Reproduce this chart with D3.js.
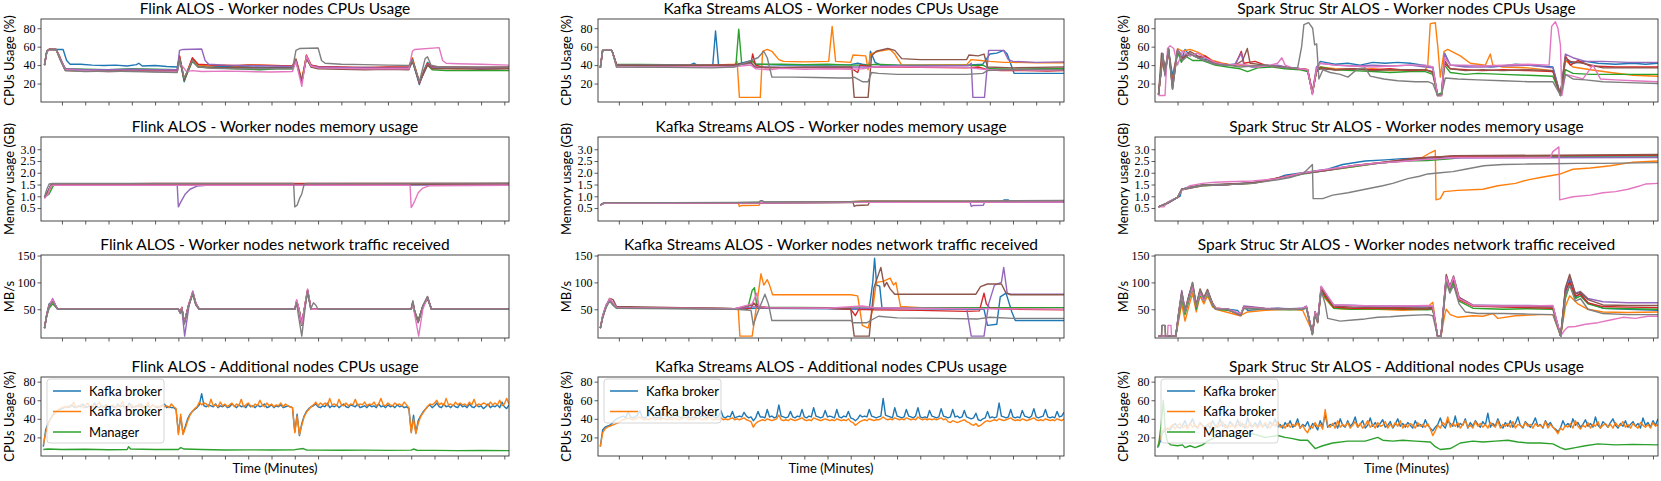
<!DOCTYPE html>
<html><head><meta charset="utf-8">
<script src="https://cdn.jsdelivr.net/npm/d3@7"></script>
<style>body{margin:0;background:#fff}</style>
</head><body>
<svg id="c" width="1661" height="481"></svg>
<script>
// ---------------- DATA ----------------
const frameworks = ["Flink ALOS", "Kafka Streams ALOS", "Spark Struc Str ALOS"];
const rowTitles = ["Worker nodes CPUs Usage", "Worker nodes memory usage", "Worker nodes network traffic received", "Additional nodes CPUs usage"];
const rowYLabels = ["CPUs Usage (%)", "Memory usage (GB)", "MB/s", "CPUs Usage (%)"];
const xLabel = "Time (Minutes)";
const xTicks = [1,2,3,4,5,6,7,8,9,10,11,12,13,14,15,16,17,18,19,20];
const cpuTicks = [20,40,60,80];
const memTicks = [0.5,1.0,1.5,2.0,2.5,3.0];
const netTicks = [50,100,150];
const memTickLabels = ["0.5","1.0","1.5","2.0","2.5","3.0"];
const legendFlink = ["Kafka broker","Kafka broker","Manager"];
const legendKafka = ["Kafka broker","Kafka broker"];
const legendSpark = ["Kafka broker","Kafka broker","Manager"];

// worker series order: blue, orange, green, red, purple, brown, pink, gray  (time,value pairs)
const flinkCpu = [
"0.25,41 0.35,55 0.45,57 0.9,57 1.05,57 1.2,45 1.35,41 1.8,41 2.3,40 2.8,39.5 3.3,40 3.8,39 4.2,40.5 4.3,42 4.45,39 5.0,39.5 5.5,38.5 5.95,38 6.05,48 6.25,22 6.35,30 6.6,46 6.8,40 7.2,38 8,38.5 9,38 10,37.5 10.9,37 11.05,45 11.3,22 11.5,48 11.7,40 12,38 13,37 14,37.5 15,37 15.9,37 16.05,45 16.35,19 16.55,35 16.7,43 16.9,38 17.5,37.5 18.5,37 19.5,37 20.2,37",
"0.25,40 0.35,54 0.45,57 0.75,57 0.9,50 1.1,36 1.5,35 2,34 3,35 4,35 5,34.5 5.95,34 6.05,50 6.25,25 6.6,47 6.85,40 7.2,39 8,40 8.5,39 9,40.5 10,39.5 10.9,39 11.05,47 11.3,25 11.5,50 11.7,40 12,38 13,37.5 14,37 15,37.5 15.9,37 16.05,48 16.35,22 16.7,42 16.9,37 18,36 19,37 20.2,37",
"0.25,40 0.35,55 0.45,57 0.75,57 0.95,45 1.15,36 2,35.5 3,35 4,36 5,35.5 5.95,35 6.05,48 6.25,23 6.6,44 6.85,38 7.5,37 8.5,36 9.5,35 10.2,36 10.9,36 11.05,44 11.3,22 11.5,48 11.7,38 12,37 13,36.5 14,36 15,36 15.9,36 16.05,46 16.35,21 16.7,40 16.9,35 17.5,34 18.5,34 19.5,34.5 20.2,34",
"0.25,40 0.35,55 0.45,57.5 0.75,57 0.95,46 1.15,35 2,34 3,34.5 4,34 5,35 5.95,34.5 6.05,50 6.25,24 6.6,48 6.85,41 7.5,40 8.5,39.5 9.5,40 10.9,39 11.05,46 11.3,21 11.5,51 11.7,40 12,38.5 13,38 14,37.5 15,38 15.9,38 16.05,47 16.35,20 16.7,42 16.9,38 18,38 19,37.5 20.2,38",
"0.25,40 0.35,55 0.45,57 0.75,57 0.95,46 1.15,36 2,35 3,35 4,35.5 5,35 5.95,35 6.05,56 6.2,57 7.0,57.5 7.15,45 7.3,41 8,40 9,39.5 10,39 10.9,38.5 11.05,46 11.3,22 11.5,49 11.7,39 12,38 13,37.5 14,37 15,37 15.9,37 16.05,45 16.35,21 16.7,41 16.9,37 18,37 19,36.5 20.2,36.5",
"0.25,40 0.35,55 0.45,57 0.75,57 0.95,45 1.15,34 2,33.5 3,33 4,33.5 5,33 5.95,33 6.05,47 6.25,24 6.6,45 6.85,38 7.5,37 8.5,37.5 9.5,37 10.9,37 11.05,45 11.3,23 11.5,47 11.7,38 12,36 13,35.5 14,35 15,35.5 15.9,35 16.05,44 16.35,22 16.7,40 16.9,36 18,36 19,35.5 20.2,36",
"0.25,40 0.35,54 0.45,57 0.75,57 0.95,45 1.15,35 2,34 3,33 4,33.5 5,33 5.95,33 6.05,42 6.2,38 6.35,33 6.6,34 7,33 8,33.5 9,33 10,32.5 10.9,33 11.05,44 11.3,17 11.5,50 11.7,39 12,37 13,36.5 14,36 15,36 15.9,36 16.05,55 16.15,57 17.2,59 17.35,45 17.5,42 18,41.5 19,41 20.2,40",
"0.25,40 0.35,55 0.45,57 0.75,57 0.95,44 1.15,34 2,33 3,33.5 4,33 5,32.5 5.95,32 6.05,47 6.25,26 6.6,45 6.85,38 7.5,36.5 8.5,36 9.5,36 10.9,36 11.05,56 11.2,58 12.0,58.5 12.15,45 12.3,42 13,41 14,40.5 15,40 15.9,39.5 16.05,46 16.35,22 16.6,47 16.7,49 16.85,40 17.2,38 18,38 19,38 20.2,38"
];
const flinkMem = [
"0.25,0.95 0.35,1.1 0.5,1.45 0.6,1.52 5,1.53 10,1.54 15,1.54 20.2,1.54",
"0.25,0.95 0.4,1.15 0.55,1.45 0.65,1.5 10,1.52 20.2,1.52",
"0.25,0.95 0.45,1.1 0.6,1.4 0.7,1.5 11,1.5 16,1.51 20.2,1.55",
"0.25,0.95 0.4,1.2 0.55,1.5 5,1.55 10,1.55 20.2,1.55",
"0.25,0.95 0.4,1.2 0.55,1.48 5.95,1.48 6.0,0.55 6.1,0.75 6.3,1.1 6.5,1.3 6.8,1.43 7.2,1.47 20.2,1.48",
"0.25,0.95 0.4,1.2 0.55,1.5 20.2,1.52",
"0.25,0.9 0.4,1.1 0.5,1.4 0.6,1.47 15.95,1.47 16.0,0.52 16.05,0.6 16.15,0.8 16.3,1.15 16.5,1.35 16.8,1.45 20.2,1.47",
"0.25,0.97 0.35,1.3 0.45,1.52 0.6,1.55 10.95,1.55 11.0,0.55 11.1,0.62 11.2,0.9 11.3,1.1 11.4,1.5 11.5,1.55 20.2,1.56"
];
const flinkNet = [
"0.25,15 0.35,42 0.45,60 0.6,65 0.72,57 0.82,50 3,50 6.0,50 6.08,45 6.15,52 6.25,25 6.45,60 6.62,80 6.75,60 6.9,50 11.0,50 11.08,63 11.18,50 11.3,20 11.45,60 11.55,82 11.7,50 16.0,50 16.07,60 16.15,45 16.3,28 16.5,55 16.7,70 16.87,50 20.2,50",
"0.25,15 0.35,40 0.45,55 0.6,63 0.72,55 0.82,50 6.0,50 6.08,44 6.15,53 6.25,24 6.45,58 6.62,82 6.75,60 6.9,50 11.0,50 11.08,65 11.18,50 11.3,22 11.45,60 11.55,85 11.7,50 16.0,50 16.07,63 16.15,45 16.3,27 16.5,55 16.7,72 16.87,50 20.2,50",
"0.25,15 0.35,38 0.45,52 0.6,60 0.72,55 0.82,50 6.0,50 6.08,46 6.15,52 6.25,26 6.45,58 6.62,78 6.75,58 6.9,50 11.0,50 11.08,60 11.18,50 11.3,25 11.45,58 11.55,83 11.7,50 16.0,50 16.07,60 16.15,46 16.3,30 16.5,55 16.7,70 16.87,50 20.2,50",
"0.25,15 0.35,40 0.45,57 0.6,68 0.72,58 0.82,50 6.0,50 6.08,45 6.15,54 6.25,24 6.45,60 6.62,82 6.75,60 6.9,50 11.0,50 11.08,66 11.18,50 11.3,21 11.45,62 11.55,86 11.7,50 16.0,50 16.07,62 16.15,44 16.3,27 16.5,56 16.7,73 16.87,50 20.2,50",
"0.25,15 0.35,40 0.45,55 0.6,70 0.72,58 0.82,50 6.0,50 6.08,42 6.15,50 6.27,0 6.45,55 6.62,84 6.75,62 6.9,50 11.0,50 11.08,64 11.18,50 11.3,22 11.45,60 11.55,85 11.7,50 16.0,50 16.07,62 16.15,45 16.3,26 16.5,55 16.7,72 16.87,50 20.2,50",
"0.25,15 0.35,41 0.45,58 0.6,66 0.72,57 0.82,50 6.0,50 6.08,44 6.15,52 6.25,23 6.45,59 6.62,81 6.75,60 6.9,50 11.0,50 11.08,62 11.18,50 11.3,20 11.45,60 11.55,84 11.7,50 16.0,50 16.07,64 16.15,45 16.3,25 16.5,55 16.7,72 16.87,50 20.2,50",
"0.25,15 0.35,40 0.45,56 0.6,69 0.72,58 0.82,50 6.0,50 6.08,44 6.15,53 6.25,24 6.45,60 6.62,82 6.75,61 6.9,50 11.0,50 11.08,68 11.18,50 11.3,22 11.45,62 11.55,88 11.7,50 16.0,50 16.07,58 16.15,40 16.32,0 16.5,50 16.7,73 16.87,50 20.2,50",
"0.25,15 0.35,39 0.45,55 0.6,64 0.72,56 0.82,50 6.0,50 6.08,43 6.15,50 6.25,22 6.45,57 6.62,80 6.75,58 6.9,50 11.0,50 11.08,62 11.15,40 11.3,0 11.45,55 11.55,84 11.68,50 11.8,62 11.9,58 12.0,50 16.0,50 16.07,66 16.15,47 16.3,26 16.5,57 16.7,74 16.87,50 20.2,50"
];
// additional nodes: regularly sampled every 0.1 min from t=0.2
const flinkBroker1 = "10 28 35 40 44 47 49 50 51 52 53 52 55 53 52 54 53 56 52 53 54 52 57 53 52 54 53 55 52 54 53 52 56 53 54 52 53 57 52 53 54 53 56 52 53 54 52 55 53 52 53 54 56 52 53 52 52 50 25 42 24 32 40 45 48 50 52 55 67 54 53 55 54 53 56 52 54 53 55 52 53 56 54 52 55 53 54 52 56 53 54 52 55 53 54 56 52 53 55 52 54 53 55 52 53 54 53 52 26 45 22 35 43 48 51 53 54 56 53 52 54 53 57 52 54 53 55 52 54 56 53 52 55 54 53 56 52 53 54 52 55 53 54 52 56 53 54 52 55 53 54 52 55 53 54 52 53 51 26 44 25 38 43 47 50 53 55 52 54 57 53 52 56 53 54 52 55 53 52 56 53 54 52 56 53 52 55 53 54 51 53 56 52 54 53 55 52 58 53 51 55";
const flinkBroker2 = "12 25 33 39 43 46 49 51 52 53 52 54 53 58 52 53 55 52 54 57 53 55 52 54 58 53 52 55 53 54 55 52 54 53 59 52 54 53 55 52 53 56 52 54 53 58 52 55 53 54 52 55 53 54 52 56 53 51 23 45 23 30 38 44 48 51 53 58 55 57 56 53 61 54 55 53 58 54 56 53 55 57 53 56 54 61 53 55 57 54 53 56 54 60 55 53 57 54 56 53 55 54 57 53 56 54 53 52 25 43 23 33 42 47 50 53 55 58 54 57 55 57 54 62 55 56 54 61 55 54 57 54 56 55 61 54 56 55 58 54 56 55 58 54 56 62 55 54 57 55 54 57 55 56 54 58 55 52 25 40 24 35 42 46 50 53 56 55 57 60 55 57 54 62 55 56 54 58 55 57 55 56 54 58 55 61 54 56 55 57 56 54 58 55 57 55 60 54 56 62 56";
const flinkManager = "0.2,7 0.4,7.5 1,7 2,7.2 3,6.8 3.8,7 3.86,10 3.95,7.5 5,7 6,7 6.1,9 6.25,7.5 7,7 8,6.5 9,6.6 10,6.5 11,6.8 11.36,8 11.5,6.5 12,6.3 13,6.2 14,6.3 15,6 16,6.3 16.1,7.5 16.25,6.2 17,6 18,5.8 19,5.9 20.2,5.8";

const kafkaCpu = [
"0.2,37 0.3,56 0.7,56 0.9,40 2,39.5 3,40 4,39.5 4.25,42 4.4,39.5 5.05,40 5.17,77 5.3,40 6,40 6.1,41 6.75,45 6.9,41 8,40 9,40 10,40 11,40.5 11.3,42 11.5,41 11.8,40 11.85,55 12.05,43 12.3,40 14,40 16,40 16.7,41 17.0,52 17.3,53 17.6,56 17.75,52 18.05,31 19,31 20.2,31",
"0.2,37 0.3,56 0.7,56 0.9,40 3,39.5 5,40 6.0,41 6.1,44 6.2,5 7.1,5 7.2,55 7.4,57 7.6,55 7.9,46 8.1,44 9,43.5 10.05,44 10.2,82 10.35,44 11.0,43 11.1,51 11.65,50 11.75,35 11.85,52 12.2,55 12.7,57 12.9,52 13.2,40 14,40 16,40.5 16.2,46 16.6,45 17.0,44 17.6,43 18,43 19,42.5 20.2,42.5",
"0.2,37 0.3,56 0.7,56 0.9,41 3,40.5 5,40 6.05,40 6.17,79 6.3,41 6.75,44 6.9,41 8,41 9,40.5 10,41 11,40 11.4,40 11.8,40 12.1,41 13,40 14,39.5 16,39.5 16.7,40 17,36 18,35.5 19,36 20.2,36",
"0.2,37 0.3,56 0.7,56 0.9,40 3,39.5 5,40 6,40.5 6.7,42 6.77,52 6.9,40 7.3,37 8,37 9,37.5 10,37 11,37 11.3,32 11.4,40 12,38 13,38 14,37.5 16,37 16.5,38 16.9,35 17.5,34 18.5,34 19.5,33.5 20.2,34",
"0.2,37 0.3,56 0.7,56 0.9,40 3,40 5,39.5 6,40 6.7,42 6.9,38 8,37.5 10,38 11,38 11.8,38 12.5,39 14,39 16.1,39.5 16.2,42 16.27,5 16.77,5 16.95,56 17.6,56 17.8,46 18,44 19,43 20.2,43.5",
"0.2,37 0.3,56 0.7,56 0.9,40 3,39 5,39.5 6,40 6.7,43 6.85,38 8,37.5 10,38 11.05,38 11.15,5 11.75,5 11.9,50 12.1,55 12.6,58 12.9,56 13.2,47 14,46 15,46 16.0,46 16.1,51 16.5,50 16.75,52 16.9,38 18,37 19,37.5 20.2,38",
"0.2,37 0.3,56 0.7,56 0.9,38 3,38 5,38 6,38.5 6.7,40 6.9,36 7.5,35 8,36.5 9,35.5 10,36 11,35.5 11.5,36 12,38 13,38.5 14,38 16,37.5 16.9,35 18,35 19,34.5 20.2,35",
"0.2,37 0.3,56 0.7,56 0.9,38 3,37.5 5,37 6,38 7.0,48 7.25,55 7.4,48 7.6,27 8.5,27 9.5,26.5 10.5,26 11.0,26 11.15,27 11.5,22 11.75,22 11.9,32 12.2,31 13,30 14,30 16,30 16.7,31 16.9,34 17.5,35 19,35.5 20.2,35"
];
const kafkaMem = [
"0.2,0.63 0.35,0.71 6,0.73 11,0.75 16,0.77 17.55,0.77 17.6,0.84 17.8,0.84 17.85,0.78 20.2,0.79",
"0.2,0.63 0.35,0.71 6.15,0.72 6.2,0.57 6.3,0.61 7.05,0.62 7.1,0.73 11,0.77 11.5,0.8 16,0.79 20.2,0.8",
"0.2,0.63 0.35,0.71 6,0.73 11,0.75 16,0.76 20.2,0.77",
"0.2,0.63 0.35,0.7 6,0.72 11,0.74 16,0.75 20.2,0.76",
"0.2,0.63 0.35,0.7 6,0.72 11,0.74 16.15,0.75 16.2,0.57 16.3,0.61 16.72,0.62 16.77,0.74 20.2,0.74",
"0.2,0.63 0.35,0.71 6,0.73 11.1,0.75 11.15,0.57 11.25,0.61 11.75,0.63 11.8,0.74 16,0.77 20.2,0.78",
"0.2,0.62 0.35,0.7 6,0.72 11,0.74 16,0.75 20.2,0.76",
"0.2,0.64 0.35,0.72 6,0.74 7.05,0.75 7.1,0.81 7.2,0.81 7.25,0.76 11,0.77 11.8,0.8 16,0.8 20.2,0.82"
];
const kafkaNet = [
"0.2,15 0.3,38 0.45,58 0.6,68 0.75,58 0.9,53 3,53 6,51 7,52 10,51 11.8,50 11.95,100 12.03,145 12.12,95 12.25,93 12.35,52 13,52 16,50 16.75,50 16.9,20 17.3,22 17.45,73 17.7,80 17.95,45 18.1,29 19,29 20.2,29",
"0.2,15 0.3,35 0.45,55 0.6,70 0.75,60 0.9,53 3,53 6.0,51 6.15,50 6.22,0 6.75,0 6.95,60 7.13,116 7.25,95 7.4,105 7.5,95 7.63,77 9,77 11,77 11.3,75 11.5,20 11.75,15 11.95,50 12.1,100 12.4,102 12.7,108 12.85,95 12.95,100 13.15,55 14,53 16,52 17,53 18,53 20.2,53",
"0.2,15 0.3,36 0.45,56 0.6,66 0.75,58 0.9,52 3,52 6,51 6.55,50 6.75,85 6.85,90 6.95,55 7.3,54 10,53 12,52 14,53 17,53 20.2,53",
"0.2,15 0.3,36 0.45,56 0.6,68 0.75,60 0.9,53 6,51 6.7,52 6.8,62 6.95,55 7.5,53 10,52 11,50 11.2,38 11.35,50 12,49 14,48 16,46 16.55,47 16.75,80 16.85,60 17,52 18,50 20.2,49",
"0.2,15 0.3,35 0.45,55 0.6,67 0.75,60 0.9,53 6,51 6.9,55 7.1,52 10,52 16.0,51 16.2,0 16.75,0 16.95,60 17.2,95 17.5,100 17.6,128 17.75,80 17.9,78 20.2,78",
"0.2,15 0.3,35 0.45,55 0.6,70 0.75,68 0.9,55 6,51 6.95,60 7.1,53 10,52 11.0,51 11.15,0 11.8,0 12.0,90 12.3,128 12.45,92 12.55,100 12.7,88 12.9,78 16.4,78 16.6,92 16.9,97 17.5,97 17.7,80 17.9,77 20.2,77",
"0.2,15 0.3,37 0.45,57 0.6,70 0.75,62 0.9,53 6,51 6.75,60 6.95,80 7.05,55 7.5,53 10,52 11.5,56 12,53 14,52 17,51 20.2,50",
"0.2,15 0.3,34 0.45,53 0.6,65 0.75,58 0.9,52 6,50 6.7,48 6.8,20 6.95,40 7.3,78 7.45,60 7.6,29 11,29 11.1,25 11.7,25 11.9,30 12.2,37 13,34 15,33 16.5,32 17,35 18,33 20.2,33"
];
const kafkaBroker1 = "10 28 31 32 33 35 38 40 41 42 43 41 48 42 41 42 44 49 42 41 42 43 50 42 41 42 41 48 43 42 41 42 49 43 42 41 43 50 42 41 42 41 48 42 43 42 41 50 43 42 41 42 49 42 41 43 42 48 41 42 43 42 47 43 41 42 38 41 48 42 42 41 50 42 43 41 42 55 43 42 41 42 48 42 41 43 42 50 42 41 43 42 52 43 42 41 42 49 42 43 42 41 50 42 41 43 42 48 41 40 38 40 44 42 43 42 50 43 42 41 42 43 62 44 43 42 41 52 43 42 41 42 50 43 42 41 43 52 42 41 42 41 49 43 42 41 42 51 43 42 41 42 50 42 43 41 42 49 42 41 40 41 46 39 38 40 41 48 41 42 41 42 57 43 42 41 42 50 42 41 42 41 49 43 42 41 43 51 42 41 42 43 50 42 41 42 41 48 42 43 47";
const kafkaBroker2 = "10 25 29 31 32 33 34 35 36 38 39 40 41 40 39 40 41 42 40 39 40 39 41 40 39 40 39 41 40 39 40 39 41 40 39 40 41 42 39 40 39 40 41 40 39 40 39 43 40 39 40 39 41 39 40 39 40 41 39 40 39 40 41 39 38 37 31 35 37 38 39 38 40 39 38 39 40 44 39 38 39 38 40 39 38 39 40 41 39 38 39 38 41 40 39 38 39 40 39 38 39 38 40 39 38 39 38 40 37 36 33 35 37 38 39 38 40 39 38 39 39 40 42 40 39 40 39 41 40 39 40 39 41 40 39 40 39 42 40 39 40 39 40 39 40 39 40 41 39 40 37 36 38 37 36 37 38 39 37 36 34 33 35 32 33 35 37 38 37 38 39 38 40 39 38 39 40 41 39 38 39 38 40 39 38 39 40 41 39 38 39 38 40 39 38 39 38 40 39 38 40";

const sparkCpu = [
"0.24,8 0.41,50 0.5,32 0.64,57 0.8,28 1.0,55 1.15,45 1.3,57 1.5,50 1.7,52 1.9,47 2.2,46 2.5,42 2.9,40 3.3,41 3.7,39 4.2,38 4.6,40 5.0,38 5.5,37 5.9,36 6.2,34 6.39,10 6.55,35 6.7,44 6.9,43 7.3,41 7.8,42 8.3,40 8.8,43 9.3,42 9.8,43 10.3,42 10.8,40 11.2,38 11.39,8 11.55,8 11.67,53 11.9,40 12.5,39 13,40 13.5,38 14,39 14.5,41 15,40 15.5,39 16.0,38 16.3,8 16.5,45 16.8,42 17.3,44 17.8,42 18.5,41 19.2,42 19.7,41 20.2,42",
"0.24,8 0.41,48 0.5,30 0.64,55 0.8,22 1.0,58 1.2,55 1.5,57 1.8,54 2.1,50 2.4,45 2.8,42 3.2,40 3.7,40 4.2,39 4.6,39 5.0,39 5.5,37 5.9,36 6.2,35 6.39,12 6.55,32 6.7,38 7.3,36 8,35 8.8,36 9.5,34 10.3,35 10.9,35 11.0,40 11.1,85 11.3,86 11.4,60 11.5,27 11.65,55 11.8,57 12.3,50 12.7,42 13.3,40 13.5,52 13.6,40 14,38 15,37 16.0,34 16.3,8 16.5,45 16.8,38 17.5,35 18.3,32 19.2,29 20.2,28",
"0.24,8 0.41,52 0.5,30 0.64,58 0.8,15 1.0,55 1.15,43 1.3,50 1.6,45 2.0,45 2.5,40 3.0,38 3.5,36 3.8,33 4.2,37 4.8,38 5.3,36 5.9,35 6.2,33 6.39,10 6.55,33 6.7,38 7.3,35 8,34 8.8,33 9.5,32 10.3,33 10.9,33 11.2,30 11.39,8 11.55,10 11.67,40 11.9,32 12.5,30 13,31 14,30 15,29 16.0,28 16.3,8 16.5,35 16.8,31 17.5,30 18.5,30 19.2,30 20.2,30",
"0.24,8 0.41,50 0.5,35 0.64,56 0.8,20 1.0,56 1.2,48 1.5,52 1.8,48 2.1,50 2.4,44 2.8,41 3.3,40 3.55,55 3.65,42 4.1,44 4.5,40 5.0,39 5.5,37 5.9,36 6.2,35 6.39,9 6.55,33 6.7,37 7.3,35 8,36 8.8,35 9.5,36 10.3,34 10.9,35 11.2,33 11.39,8 11.55,8 11.67,42 11.9,36 12.5,35 13.2,34 14,35 15,34 16.0,33 16.3,8 16.5,50 16.7,40 17.0,45 17.5,39 18.5,38 19.2,38 20.2,38",
"0.24,8 0.41,53 0.5,28 0.64,58 0.8,18 1.0,57 1.2,50 1.5,53 1.8,48 2.1,45 2.4,42 2.8,40 3.3,41 3.55,53 3.65,40 4.0,38 4.5,39 5.0,40 5.5,37 5.9,36 6.2,35 6.39,10 6.55,38 6.7,42 7.3,40 8,39 8.8,40 9.5,39 10.3,40 10.9,38 11.2,37 11.39,7 11.55,7 11.67,52 11.9,40 12.5,38 13.2,38 14,39 15,40 16.0,37 16.3,7 16.5,52 16.8,48 17.3,44 18,44 19,43 20.2,43",
"0.24,8 0.36,53 0.5,30 0.64,57 0.8,14 1.0,55 1.2,47 1.5,55 1.8,50 2.1,48 2.4,43 2.8,41 3.3,40 3.6,45 3.79,58 3.9,42 4.5,40 5.0,38 5.5,37 5.9,36 6.2,35 6.39,9 6.55,34 6.7,36 7.3,35 8,36 8.8,34 9.5,35 10.3,35 10.9,35 11.2,32 11.39,7 11.55,7 11.67,45 11.9,36 12.5,34 13.2,35 14,34 15,35 16.0,34 16.3,7 16.5,48 16.7,44 17.2,42 18,37 19,37 20.2,37",
"0.24,7 0.5,7 0.6,58 0.7,61 0.85,58 1.0,40 1.2,55 1.5,50 1.8,53 2.1,48 2.5,43 3.0,40 3.5,41 4.2,38 4.7,40 5.0,42 5.17,48 5.3,40 5.6,37 5.9,36 6.2,35 6.39,8 6.55,35 6.7,42 7.3,40 8,39 8.8,38 9.5,39 10.3,40 10.9,40 11.2,38 11.39,7 11.55,7 11.67,48 11.9,40 12.5,40 13.2,39 14,40 15,41 15.85,40 15.95,82 16.1,87 16.2,80 16.3,62 16.36,7 16.5,30 16.8,28 17.2,25 17.6,40 17.9,25 18.5,24 19.2,23 20.2,22",
"0.24,8 0.41,52 0.5,30 0.64,58 0.8,14 1.0,56 1.2,45 1.5,52 1.8,48 2.1,45 2.5,41 3.0,40 3.5,38 4.0,39 4.5,40 5.0,38 5.5,37 5.8,37 5.96,60 6.05,84 6.24,86 6.4,80 6.48,62 6.56,63 6.65,25 6.81,35 7.1,32 7.5,30 7.81,27 8.2,36 8.5,37 8.7,28 9.24,25 9.8,23 10.5,22 11.0,22 11.2,20 11.39,7 11.55,8 11.7,26 12.2,25 13,24 14,23 15,22 16.0,22 16.31,7 16.5,30 16.8,25 17.3,24 18,22 19,21 20.2,20"
];
const sparkMem = [
"0.24,0.55 0.6,0.7 1.0,0.95 1.1,1.0 1.17,1.3 1.5,1.4 2.0,1.47 3.0,1.5 4.0,1.58 4.8,1.7 5.3,1.9 6.0,2.0 7.0,2.15 7.6,2.35 8.5,2.5 9.3,2.55 10.0,2.6 11.5,2.65 12.0,2.7 20.2,2.72",
"0.24,0.55 0.6,0.7 1.0,0.95 1.17,1.28 2.0,1.45 3.0,1.5 4.0,1.55 5.0,1.75 6.0,1.98 7.0,2.1 8.0,2.25 9.0,2.4 10.0,2.5 10.7,2.6 11.1,2.85 11.3,2.95 11.33,0.85 11.5,0.9 11.65,1.2 12.2,1.25 13.2,1.3 13.8,1.45 14.5,1.55 15,1.7 15.5,1.8 16.3,1.95 16.8,2.15 17.5,2.2 18.3,2.3 19.2,2.45 20.2,2.5",
"0.24,0.55 0.6,0.72 1.0,0.95 1.17,1.3 2.0,1.45 3.0,1.5 4.0,1.55 5.0,1.75 6.0,1.95 7.0,2.1 8.0,2.25 9.0,2.4 10.0,2.5 11.0,2.52 12.0,2.6 12.5,2.7 20.2,2.72",
"0.24,0.55 0.6,0.72 1.0,0.95 1.17,1.3 2.0,1.48 3.0,1.5 4.0,1.57 5.0,1.78 6.0,1.98 7.0,2.12 8.0,2.3 9.0,2.42 10.0,2.55 10.5,2.62 11.0,2.65 12.0,2.7 20.2,2.75",
"0.24,0.55 0.6,0.7 1.0,0.95 1.17,1.28 2.0,1.46 3.0,1.5 4.0,1.56 5.0,1.76 6.0,1.97 7.0,2.1 8.0,2.28 9.0,2.4 10.0,2.5 11.0,2.58 12.0,2.63 20.2,2.65",
"0.24,0.55 0.6,0.72 1.0,0.96 1.17,1.3 2.0,1.48 3.0,1.52 4.0,1.57 5.0,1.77 6.0,1.98 7.0,2.12 8.0,2.3 9.0,2.42 10.0,2.55 11.0,2.65 12.0,2.72 20.2,2.78",
"0.24,0.55 0.46,0.55 0.6,0.75 1.0,0.95 1.17,1.25 1.5,1.45 2.0,1.55 2.5,1.6 3.0,1.62 4.0,1.65 5.0,1.75 6.0,2.0 7.0,2.15 8.0,2.3 9.0,2.42 10.0,2.48 10.7,2.55 11.5,2.6 12.0,2.65 15.9,2.65 16.0,2.9 16.24,3.1 16.27,0.85 16.8,0.98 17.5,1.05 18.0,1.15 18.5,1.2 19.0,1.3 19.5,1.45 19.7,1.52 20.2,1.55",
"0.24,0.55 0.6,0.72 1.0,0.95 1.17,1.3 2.0,1.47 3.0,1.5 4.0,1.55 5.0,1.7 5.5,1.8 6.0,1.95 6.2,2.15 6.39,2.35 6.42,0.9 6.8,0.9 7.2,1.05 7.81,1.15 8.5,1.3 9.2,1.45 9.6,1.55 10.2,1.75 10.67,1.85 11.0,1.95 11.5,2.0 12.0,2.05 12.5,2.15 13.24,2.3 14,2.35 15,2.37 16,2.38 17,2.4 18,2.4 20.2,2.43"
];
const sparkNet = [
"0.24,0 0.93,0 1.05,40 1.17,75 1.3,45 1.45,70 1.6,95 1.75,55 1.9,80 2.05,68 2.2,82 2.39,60 2.53,50 3.0,50 3.4,48 3.53,40 3.65,55 3.8,48 4.5,50 5.0,52 5.5,50 6.0,52 6.15,55 6.39,5 6.5,45 6.6,28 6.74,90 6.9,78 7.24,57 8,57 9,55 10,55 11.0,54 11.2,52 11.39,0 11.53,0 11.74,110 11.88,88 12.03,105 12.25,70 12.8,57 14,55 15,55 16.0,55 16.31,0 16.5,80 16.67,105 16.9,72 17.1,80 17.4,62 18,52 19,50 20.2,48",
"0.24,0 0.93,0 1.05,30 1.17,60 1.3,28 1.45,55 1.6,80 1.75,45 1.9,75 2.05,60 2.2,75 2.39,55 2.53,50 3.5,38 3.8,45 4.5,48 5.5,50 6.0,48 6.39,8 6.5,40 6.6,25 6.74,82 6.9,70 7.24,52 8,50 9,50 10,48 10.9,50 11.2,63 11.39,0 11.53,0 11.68,40 11.74,50 11.9,40 12.2,35 12.8,38 13.2,37 13.6,42 13.8,33 14.5,38 15.5,40 16.0,40 16.31,0 16.5,55 16.67,75 17,60 17.4,50 18,45 19,44 20.2,45",
"0.24,0 0.93,0 1.05,35 1.17,70 1.3,40 1.45,65 1.6,90 1.75,50 1.9,78 2.05,65 2.2,80 2.39,58 2.53,50 3.0,48 3.53,42 3.65,52 4.5,50 5.5,49 6.0,50 6.15,52 6.39,3 6.5,42 6.6,27 6.74,85 6.9,72 7.24,52 8,50 9,51 10,50 11.0,49 11.2,50 11.39,0 11.53,0 11.74,100 11.88,85 12.03,100 12.25,65 12.8,52 14,50 15,51 16.0,50 16.31,0 16.5,70 16.67,95 16.9,70 17.1,75 17.4,60 18,52 19,51 20.2,50",
"0.24,0 0.93,0 1.05,42 1.17,80 1.3,47 1.45,72 1.6,92 1.75,55 1.9,85 2.05,70 2.2,83 2.39,62 2.53,52 3.0,50 3.53,38 3.65,55 4.5,51 5.5,50 6.0,51 6.15,54 6.39,4 6.5,44 6.6,26 6.74,88 6.9,75 7.24,54 8,52 9,52 10,51 11.0,51 11.2,52 11.39,0 11.53,0 11.74,108 11.88,90 12.03,108 12.25,68 12.8,56 14,54 15,53 16.0,52 16.31,0 16.5,85 16.67,100 16.9,75 17.1,78 17.4,62 18,55 19,54 20.2,53",
"0.24,0 0.93,0 1.05,45 1.17,85 1.3,48 1.45,75 1.6,95 1.75,58 1.9,82 2.05,68 2.2,85 2.39,60 2.53,50 3.0,51 3.53,40 3.65,56 4.5,52 5.5,51 6.0,52 6.15,56 6.39,5 6.5,46 6.6,28 6.74,92 6.9,80 7.24,58 8,57 9,56 10,56 11.0,56 11.2,55 11.39,0 11.53,0 11.74,112 11.88,92 12.03,110 12.25,72 12.8,58 14,57 15,57 16.0,56 16.31,0 16.5,88 16.67,112 16.9,80 17.1,83 17.4,70 18,64 19,62 20.2,62",
"0.24,0 0.36,0 0.38,20 0.5,20 0.52,0 0.93,0 1.05,45 1.17,82 1.3,48 1.45,75 1.6,100 1.75,58 1.9,88 2.05,72 2.2,87 2.39,62 2.53,52 3.0,50 3.53,39 3.65,55 4.5,51 5.5,50 6.0,51 6.15,55 6.39,4 6.5,45 6.6,27 6.74,90 6.9,78 7.24,56 8,54 9,53 10,53 11.0,52 11.2,53 11.39,0 11.53,0 11.74,115 11.88,92 12.03,112 12.25,72 12.8,57 14,56 15,55 16.0,54 16.31,0 16.5,90 16.67,115 16.9,78 17.1,82 17.4,68 18,58 19,57 20.2,57",
"0.24,0 0.6,0 0.62,20 0.74,20 0.76,0 0.93,0 1.05,40 1.17,78 1.3,45 1.45,70 1.6,90 1.75,55 1.9,80 2.05,66 2.2,82 2.39,60 2.53,52 3.0,50 3.53,42 3.65,54 4.5,51 5.5,50 6.0,52 6.15,55 6.39,3 6.5,45 6.6,28 6.74,93 6.9,82 7.24,58 8,57 9,56 10,56 11.0,57 11.2,56 11.39,0 11.53,0 11.74,110 11.88,90 12.03,110 12.25,70 12.8,57 14,56 15,56 16.0,57 16.31,0 16.45,10 16.6,17 16.9,18 17.3,22 17.8,25 18.3,30 18.8,35 19.3,33 19.8,37 20.2,37",
"0.24,0 0.36,0 0.38,20 0.5,20 0.52,0 0.93,0 1.05,43 1.17,80 1.3,46 1.45,72 1.6,100 1.75,56 1.9,85 2.05,70 2.2,84 2.39,60 2.53,50 3.0,50 3.53,38 3.65,52 4.5,50 5.5,51 6.0,50 6.15,52 6.39,3 6.5,40 6.6,25 6.74,85 6.9,60 7.0,33 7.5,28 8,30 8.5,32 9,35 9.5,36 10,38 11.0,40 11.2,38 11.39,0 11.53,0 11.74,100 11.88,80 12.03,95 12.25,60 12.5,45 13,42 14,42 15,41 16.0,40 16.31,0 16.5,75 16.67,95 16.9,65 17.1,70 17.4,50 18,42 19,40 20.2,40"
];
const sparkBroker1 = "9 15 25 27 30 28 32 35 31 30 33 38 31 34 40 32 30 36 33 31 34 30 38 33 31 40 32 34 30 37 33 31 39 32 35 30 41 33 31 36 32 38 31 34 30 37 33 40 31 34 30 36 32 38 31 33 40 30 34 32 37 29 35 33 28 38 32 45 31 34 33 36 30 40 33 31 38 32 35 42 31 34 38 30 33 41 32 36 31 35 39 31 33 37 30 34 40 32 35 31 36 33 30 38 32 34 31 39 33 30 27 31 34 41 33 30 38 35 32 43 31 35 33 40 30 36 32 38 34 31 37 33 46 31 35 32 40 33 30 36 32 38 31 35 42 33 30 37 34 31 35 41 32 34 30 38 33 36 31 29 26 30 38 32 35 31 40 33 36 31 34 39 32 35 31 42 33 30 37 34 31 36 40 33 30 35 32 38 31 34 37 32 35 30 41 33 36 31 38 33 40";
const sparkBroker2 = "10 18 27 30 28 31 34 29 33 35 30 33 29 36 31 34 30 35 32 29 33 36 31 30 35 32 37 30 33 31 35 30 33 37 31 34 30 36 32 33 30 34 31 36 33 30 35 32 37 31 33 30 35 31 34 32 36 30 33 28 25 32 30 36 31 34 29 50 33 31 35 30 38 31 34 32 36 30 33 37 31 35 30 33 38 31 34 30 36 32 33 37 30 34 31 36 32 38 30 34 31 35 33 30 36 32 34 31 35 29 22 27 33 30 36 33 42 31 35 32 36 30 34 38 31 33 30 37 32 35 31 34 30 36 33 31 38 30 34 32 35 31 37 30 34 33 31 36 32 34 30 35 32 33 31 37 30 34 31 28 24 30 28 33 31 35 30 38 32 29 33 31 36 30 34 32 37 30 33 35 31 34 30 36 32 33 37 31 34 30 35 32 30 36 33 31 34 30 36 32 34";
const sparkManager = "0.24,10 0.35,35 0.43,60 0.52,25 0.6,15 0.74,12 1.0,11 1.2,12 1.3,9 1.5,11 1.7,9 1.9,11 2.0,12 2.2,16 2.5,20 3,22 3.5,21 4,24 4.5,20 5,22 5.3,20 5.55,19 5.9,17 6.2,17 6.5,8 6.8,11 7.2,14 7.8,16 8.5,16 9.0,20 9.2,17 9.6,16 10,17 10.5,16 11.1,15 11.3,10 11.5,7 11.9,8 12.3,14 12.8,16 13.2,15 13.7,16 14.2,17 14.6,15 15,14 15.5,14 16.0,13 16.3,9 16.5,7 16.9,9 17.3,11 17.8,13 18.5,12 19.2,12.5 20.2,12";

// ---------------- DRAWING ----------------
const palette = ["#1f77b4","#ff7f0e","#2ca02c","#d62728","#9467bd","#8c564b","#e377c2","#7f7f7f"];
const pairs = s => s.trim().split(/\s+/).map(p => p.split(",").map(Number));
const sampled = s => s.trim().split(/\s+/).map((v, i) => [0.2 + i * 0.1, +v]);

const colLeft = [41, 598, 1155];
const colW = [468, 466, 503];
const rowTop = [19, 137, 255, 377];
const rowH = [83, 84, 83, 79];
const yDomains = [[0, 90], [-0.05, 3.52], [-3.5, 151], [0, 85]];
const yTickSets = [cpuTicks, memTicks, netTicks, cpuTicks];

const workerData = [[flinkCpu, flinkMem, flinkNet], [kafkaCpu, kafkaMem, kafkaNet], [sparkCpu, sparkMem, sparkNet]];
const addData = [
  [sampled(flinkBroker1), sampled(flinkBroker2), pairs(flinkManager)],
  [sampled(kafkaBroker1), sampled(kafkaBroker2)],
  [sampled(sparkBroker1), sampled(sparkBroker2), pairs(sparkManager)]
];
const legends = [legendFlink, legendKafka, legendSpark];

const svg = d3.select("#c");
const TITLE_FONT = "Lato, 'Open Sans', sans-serif";
const TICK_FONT = "'Liberation Serif', 'DejaVu Serif', serif";

for (let c = 0; c < 3; c++) {
  const plotW = colW[c];
  for (let r = 0; r < 4; r++) {
    const x0 = colLeft[c], y0 = rowTop[r], h = rowH[r];
    const g = svg.append("g").attr("transform", `translate(${x0},${y0})`);
    const x = d3.scaleLinear().domain([0.1, 20.2]).range([0, plotW]);
    const y = d3.scaleLinear().domain(yDomains[r]).range([h, 0]);
    const cid = `clip${c}${r}`;
    g.append("clipPath").attr("id", cid).append("rect").attr("width", plotW).attr("height", h);

    const series = r < 3 ? workerData[c][r].map(pairs) : addData[c];
    const line = d3.line().x(d => x(d[0])).y(d => y(d[1]));
    const lg = g.append("g").attr("clip-path", `url(#${cid})`);
    series.forEach((s, i) => {
      lg.append("path").datum(s).attr("d", line).attr("fill", "none")
        .attr("stroke", palette[i]).attr("stroke-width", 1.4)
        .attr("stroke-linejoin", "round");
    });

    g.append("rect").attr("width", plotW).attr("height", h).attr("fill", "none")
      .attr("stroke", "#333").attr("stroke-width", 0.9);

    const ya = d3.axisLeft(y).tickValues(yTickSets[r]).tickSize(3.5).tickPadding(2)
      .tickFormat(r === 1 ? (d, i) => memTickLabels[i] : d3.format("d"));
    const yg = g.append("g").call(ya);
    yg.select(".domain").remove();
    yg.selectAll("line").attr("stroke", "#333").attr("stroke-width", 0.8);
    yg.selectAll("text").attr("font-family", TICK_FONT).attr("font-size", 12).attr("fill", "#000");

    const xa = d3.axisBottom(x).tickValues(xTicks).tickSize(3.5).tickFormat("");
    const xg = g.append("g").attr("transform", `translate(0,${h})`).call(xa);
    xg.select(".domain").remove();
    xg.selectAll("line").attr("stroke", "#333").attr("stroke-width", 0.8);

    g.append("text").attr("x", plotW / 2).attr("y", -5).attr("text-anchor", "middle")
      .attr("font-family", TITLE_FONT).attr("font-size", 15.5).attr("fill", "#000")
      .text(`${frameworks[c]} - ${rowTitles[r]}`);

    g.append("text").attr("transform", `translate(${-27},${h / 2}) rotate(-90)`)
      .attr("text-anchor", "middle").attr("font-family", TITLE_FONT).attr("font-size", 13)
      .attr("fill", "#000").text(rowYLabels[r]);

    if (r === 3) {
      g.append("text").attr("x", plotW / 2).attr("y", h + 17).attr("text-anchor", "middle")
        .attr("font-family", TITLE_FONT).attr("font-size", 13).attr("fill", "#000").text(xLabel);
      const items = legends[c];
      const lw = 117, lh = items.length === 3 ? 64 : 44;
      const leg = g.append("g").attr("transform", `translate(6,2)`);
      leg.append("rect").attr("width", lw).attr("height", lh).attr("rx", 3)
        .attr("fill", "#fff").attr("fill-opacity", 0.8).attr("stroke", "#ccc").attr("stroke-width", 0.8);
      items.forEach((t, i) => {
        const cy = 12 + i * 20.5;
        leg.append("line").attr("x1", 6).attr("x2", 34).attr("y1", cy).attr("y2", cy)
          .attr("stroke", palette[i]).attr("stroke-width", 1.5);
        leg.append("text").attr("x", 42).attr("y", cy + 4.5).attr("font-family", TITLE_FONT)
          .attr("font-size", 13).attr("fill", "#000").text(t);
      });
    }
  }
}
</script>
</body></html>
